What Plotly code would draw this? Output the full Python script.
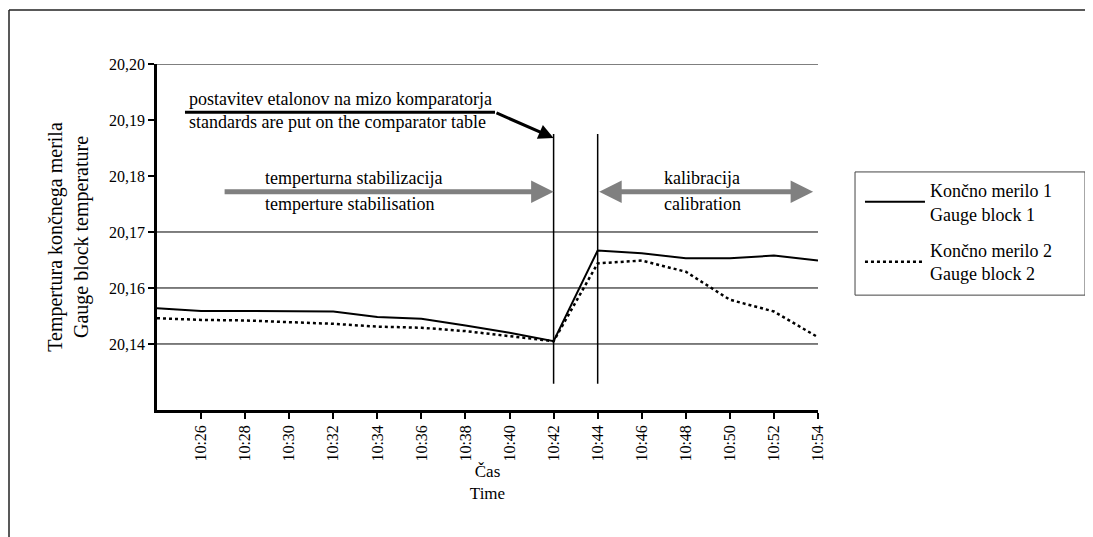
import plotly.graph_objects as go

# ---------------- data ----------------
times = ["10:24", "10:26", "10:28", "10:30", "10:32", "10:34", "10:36", "10:38",
         "10:40", "10:42", "10:44", "10:46", "10:48", "10:50", "10:52", "10:54"]
gauge_block_1 = [20.1564, 20.1559, 20.1559, 20.1559, 20.1558, 20.1548, 20.1545, 20.1533,
                 20.1520, 20.1505, 20.1667, 20.1662, 20.1653, 20.1653, 20.1658, 20.1649]
gauge_block_2 = [20.1546, 20.1543, 20.1542, 20.1539, 20.1536, 20.1531, 20.1529, 20.1523,
                 20.1514, 20.1505, 20.1644, 20.1649, 20.1629, 20.1579, 20.1558, 20.1512]
series_names = ["Končno merilo 1<br>Gauge block 1", "Končno merilo 2<br>Gauge block 2"]

x_tick_labels = ["10:26", "10:28", "10:30", "10:32", "10:34", "10:36", "10:38", "10:40",
                 "10:42", "10:44", "10:46", "10:48", "10:50", "10:52", "10:54"]
y_tick_vals = [20.20, 20.19, 20.18, 20.17, 20.16, 20.15]
y_tick_text = ["20,20", "20,19", "20,18", "20,17", "20,16", "20,14"]
grid_vals = [20.20, 20.17, 20.16, 20.15]

event_times = ["10:42", "10:44"]


def mins(t):
    h, m = t.split(":")
    return int(h) * 60 + int(m)


x = [mins(t) for t in times]
FONT = "Liberation Serif, Times New Roman, serif"

fig = go.Figure()
fig.add_trace(go.Scatter(x=x, y=gauge_block_1, mode="lines", name=series_names[0],
                         line=dict(color="black", width=2), legendgroup="a"))
fig.add_trace(go.Scatter(x=x, y=gauge_block_2, mode="lines", name=series_names[1],
                         line=dict(color="black", width=2.5, dash="dot"), legendgroup="b"))

shapes = []
for g in grid_vals:
    shapes.append(dict(type="line", xref="paper", x0=0, x1=1, yref="y", y0=g, y1=g,
                       line=dict(color="black", width=1), layer="below"))
for t in event_times:
    shapes.append(dict(type="line", xref="x", x0=mins(t), x1=mins(t), yref="y",
                       y0=20.1429, y1=20.1875, line=dict(color="black", width=1.5)))
# black bar under the first label
shapes.append(dict(type="line", xref="x", x0=625.27, x1=639.34, yref="y",
                   y0=20.19137, y1=20.19137, line=dict(color="black", width=3)))
# outer frame (top and left)
shapes.append(dict(type="line", xref="paper", yref="paper", x0=-0.2239, x1=1.42,
                   y0=1.156, y1=1.156, line=dict(color="#222", width=1.5)))
shapes.append(dict(type="line", xref="paper", yref="paper", x0=-0.2239, x1=-0.2239,
                   y0=1.156, y1=-0.4, line=dict(color="#222", width=1.5)))
# legend frame
shapes.append(dict(type="rect", xref="paper", yref="paper", x0=1.056, x1=1.404,
                   y0=0.332, y1=0.688, line=dict(color="#444", width=1)))

annotations = []
# black arrow to 10:42
annotations.append(dict(x=mins("10:42"), y=20.1868, xref="x", yref="y",
                        ax=639.34, ay=20.19137, axref="x", ayref="y", text="",
                        showarrow=True, arrowhead=2, arrowwidth=3, arrowsize=1,
                        arrowcolor="black", standoff=0))
# gray arrow stabilisation
annotations.append(dict(x=mins("10:42"), y=20.1772, xref="x", yref="y",
                        ax=627.0, ay=20.1772, axref="x", ayref="y", text="",
                        showarrow=True, arrowhead=2, arrowwidth=5, arrowsize=0.9,
                        arrowcolor="#808080", standoff=0))
# gray double arrow calibration
annotations.append(dict(x=653.78, y=20.1772, xref="x", yref="y",
                        ax=mins("10:44"), ay=20.1772, axref="x", ayref="y", text="",
                        showarrow=True, arrowhead=2, arrowwidth=5, arrowsize=0.9,
                        startarrowhead=2, startarrowsize=0.9, arrowside="end+start",
                        arrowcolor="#808080", standoff=0, startstandoff=0))

txt_font = dict(family=FONT, size=18, color="black")
labels = [
    ("postavitev etalonov na mizo komparatorja", 625.36, 20.1938),
    ("standards are put on the comparator table", 625.36, 20.1896),
    ("temperturna stabilizacija", 628.8, 20.1796),
    ("temperture stabilisation", 628.8, 20.1750),
    ("kalibracija", 646.9, 20.1796),
    ("calibration", 646.9, 20.1750),
]
for t, lx, ly in labels:
    annotations.append(dict(text=t, x=lx, y=ly, xref="x", yref="y", xanchor="left",
                            yanchor="middle", showarrow=False, font=txt_font))

fig.update_layout(
    width=1085, height=529,
    margin=dict(l=149, r=275, t=56, b=127),
    paper_bgcolor="white", plot_bgcolor="white",
    font=dict(family=FONT, size=16, color="black"),
    shapes=shapes, annotations=annotations,
    showlegend=True,
    legend=dict(x=1.0635, y=0.688, xanchor="left", yanchor="top",
                bgcolor="rgba(0,0,0,0)", borderwidth=0,
                font=dict(family=FONT, size=18, color="black"),
                tracegroupgap=10, itemwidth=60),
    xaxis=dict(range=[mins("10:24"), mins("10:54")], tickvals=[mins(t) for t in x_tick_labels],
               ticktext=x_tick_labels, tickangle=-90, showgrid=False, zeroline=False,
               showline=True, linecolor="black", linewidth=2.5,
               ticks="outside", ticklen=6, tickwidth=1.5, tickcolor="black",
               tickfont=dict(family=FONT, size=16, color="black"),
               title=dict(text="Čas<br>Time", font=dict(family=FONT, size=17), standoff=4)),
    yaxis=dict(range=[20.13821, 20.20], tickvals=y_tick_vals, ticktext=y_tick_text,
               showgrid=False, zeroline=False, showline=True, linecolor="black", linewidth=2.5,
               ticks="outside", ticklen=6, tickwidth=1.5, tickcolor="black",
               tickfont=dict(family=FONT, size=16, color="black"),
               title=dict(text="Tempertura končnega merila<br>Gauge block temperature",
                          font=dict(family=FONT, size=20), standoff=16)),
)

fig.write_html("out.html")
